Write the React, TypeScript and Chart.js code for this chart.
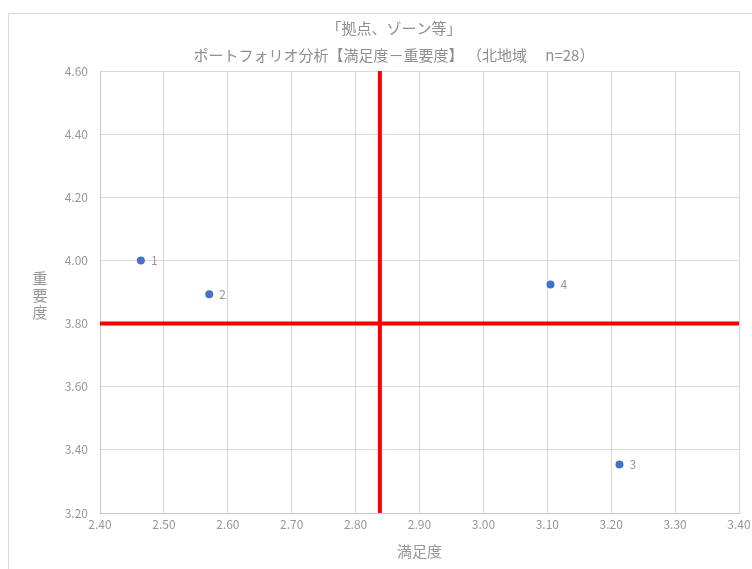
import React, { useEffect, useRef } from "react";
import { Chart, registerables } from "chart.js";

Chart.register(...registerables);

const titleLines = ["「拠点、ゾーン等」", "ポートフォリオ分析【満足度－重要度】 （北地域　 n=28）"];
const xAxisTitle = "満足度";
const yAxisTitle = "重要度";

const itemLabels = ["1", "2", "3", "4"];
const satisfaction = [2.464, 2.571, 3.213, 3.105];
const importance = [4.0, 3.893, 3.354, 3.924];

const xMin = 2.4;
const xMax = 3.4;
const xStep = 0.1;
const yMin = 3.2;
const yMax = 4.6;
const yStep = 0.2;

const avgSatisfaction = 2.838;
const avgImportance = 3.8;

const FONT = "'Noto Sans CJK JP', 'Noto Sans', sans-serif";
const TEXT_GRAY = "#979797";
const TITLE_GRAY = "#8e8e8e";

const pointLabelPlugin = {
  id: "pointLabels",
  afterDatasetsDraw(chart: any) {
    const ctx = chart.ctx;
    const meta = chart.getDatasetMeta(2);
    ctx.save();
    ctx.font = `12px ${FONT}`;
    ctx.fillStyle = TEXT_GRAY;
    ctx.textAlign = "left";
    ctx.textBaseline = "middle";
    meta.data.forEach((el: any, i: number) => {
      ctx.fillText(itemLabels[i], el.x + 10, el.y);
    });
    ctx.restore();
  },
};

const yTitlePlugin = {
  id: "yTitleVertical",
  afterDraw(chart: any) {
    const ctx = chart.ctx;
    const area = chart.chartArea;
    const chars = Array.from(yAxisTitle);
    const step = 17;
    const cy = (area.top + area.bottom) / 2 + 3;
    const start = cy - ((chars.length - 1) * step) / 2;
    ctx.save();
    ctx.font = `15px ${FONT}`;
    ctx.fillStyle = TEXT_GRAY;
    ctx.textAlign = "center";
    ctx.textBaseline = "middle";
    chars.forEach((c, i) => ctx.fillText(c, 31, start + i * step));
    ctx.restore();
  },
};

export default function App() {
  const ref = useRef<HTMLCanvasElement | null>(null);

  useEffect(() => {
    if (!ref.current) return;
    const chart = new Chart(ref.current, {
      type: "scatter",
      data: {
        datasets: [
          {
            label: "vline",
            data: [
              { x: avgSatisfaction, y: yMin },
              { x: avgSatisfaction, y: yMax },
            ],
            showLine: true,
            borderColor: "#ff0000",
            borderWidth: 4,
            pointRadius: 0,
            order: 2,
          },
          {
            label: "hline",
            data: [
              { x: xMin, y: avgImportance },
              { x: xMax, y: avgImportance },
            ],
            showLine: true,
            borderColor: "#ff0000",
            borderWidth: 4,
            pointRadius: 0,
            order: 2,
          },
          {
            label: "items",
            data: satisfaction.map((x, i) => ({ x, y: importance[i] })),
            backgroundColor: "#4472c4",
            borderColor: "#4472c4",
            pointRadius: 4,
            borderWidth: 0,
            order: 1,
          },
        ],
      },
      options: {
        animation: false,
        responsive: false,
        devicePixelRatio: 1,
        layout: { padding: { left: 40, right: 40, top: 0, bottom: 0 } },
        plugins: {
          legend: { display: false },
          tooltip: { enabled: false },
          title: {
            display: true,
            text: titleLines,
            color: TITLE_GRAY,
            font: { family: FONT, size: 15, weight: "normal", lineHeight: "27px" },
            padding: { top: 1, bottom: 2 },
          },
        },
        scales: {
          x: {
            type: "linear",
            min: xMin,
            max: xMax,
            ticks: {
              stepSize: xStep,
              color: TEXT_GRAY,
              font: { family: FONT, size: 12 },
              padding: 4,
              maxRotation: 0,
              callback: (v: any) => Number(v).toFixed(2),
            },
            grid: { color: "#d9d9d9", drawTicks: false },
            border: { color: "#c8c8c8" },
            title: {
              display: true,
              text: xAxisTitle,
              color: TEXT_GRAY,
              font: { family: FONT, size: 15 },
              padding: { top: 0, bottom: 9 },
            },
            afterFit: (s: any) => {
              s.height = 56;
            },
          },
          y: {
            type: "linear",
            min: yMin,
            max: yMax,
            ticks: {
              stepSize: yStep,
              color: TEXT_GRAY,
              font: { family: FONT, size: 12 },
              padding: 12,
              callback: (v: any) => Number(v).toFixed(2),
            },
            grid: { color: "#d9d9d9", drawTicks: false },
            border: { color: "#c8c8c8" },
            afterFit: (s: any) => {
              s.width = 51;
            },
          },
        },
      },
      plugins: [pointLabelPlugin, yTitlePlugin],
    });
    return () => chart.destroy();
  }, []);

  return (
    <div
      style={{
        position: "fixed",
        left: 8,
        top: 13,
        width: 744,
        height: 556,
        overflow: "hidden",
        borderTop: "1px solid #d9d9d9",
        borderLeft: "1px solid #d9d9d9",
        background: "#ffffff",
      }}
    >
      <canvas ref={ref} width={770} height={555} style={{ display: "block" }} />
    </div>
  );
}
